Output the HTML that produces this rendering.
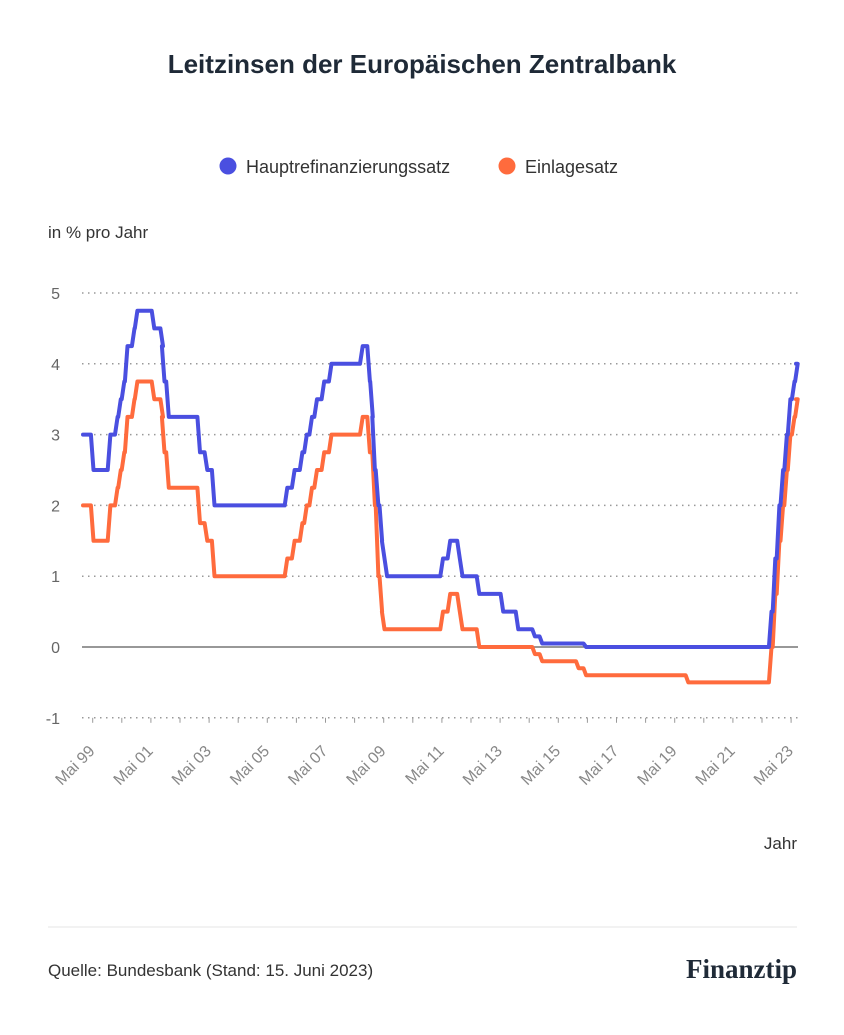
<!DOCTYPE html>
<html><head><meta charset="utf-8">
<style>
html,body{margin:0;padding:0;background:#fff;}
body{width:844px;height:1030px;overflow:hidden;font-family:"Liberation Sans",sans-serif;}
</style></head>
<body>
<svg id="s" width="844" height="1030" viewBox="0 0 844 1030" xmlns="http://www.w3.org/2000/svg" font-family="Liberation Sans, sans-serif">
<rect width="844" height="1030" fill="#fff"/>
<text x="422" y="73" text-anchor="middle" font-size="26" font-weight="bold" fill="#1f2a37">Leitzinsen der Europäischen Zentralbank</text>
<circle cx="228" cy="166" r="8.5" fill="#4a4fe0"/>
<text x="246" y="173" font-size="18" fill="#333">Hauptrefinanzierungssatz</text>
<circle cx="507" cy="166" r="8.5" fill="#ff6b3d"/>
<text x="525" y="173" font-size="18" fill="#333">Einlagesatz</text>
<text x="48" y="238" font-size="17" fill="#333">in % pro Jahr</text>
<g id="grid"></g>
<g id="lines"></g>
<text x="797" y="849" text-anchor="end" font-size="17" fill="#333">Jahr</text>
<line x1="48" y1="927" x2="797" y2="927" stroke="#e6e6e6" stroke-width="1"/>
<text x="48" y="976" font-size="17" fill="#333">Quelle: Bundesbank (Stand: 15. Juni 2023)</text>
<text x="797" y="978" text-anchor="end" font-family="Liberation Serif, serif" font-size="27" font-weight="bold" fill="#1f2a37">Finanztip</text>
</svg>
<script>
var NS="http://www.w3.org/2000/svg";
function el(t,a,p){var e=document.createElementNS(NS,t);for(var k in a)e.setAttribute(k,a[k]);p.appendChild(e);return e;}
function Y(v){return 647-v*70.8;}
function X(t){return 83+(t-1999.0)*29.1;}
var g=document.getElementById('grid');
for(var v=-1;v<=5;v++){
  var y=Y(v);
  var lab=el('text',{x:60,y:y+6,'text-anchor':'end','font-size':16,fill:'#666'},g);lab.textContent=(v<0?'-1':v);
  if(v==0){el('line',{x1:82,y1:y,x2:798,y2:y,stroke:'#777','stroke-width':1.5},g);}
  else el('line',{x1:82,y1:y,x2:798,y2:y,stroke:'#999','stroke-width':1.5,'stroke-dasharray':'1.5 4.5'},g);
}
for(var i=0;i<=24;i++){var x=X(1999+4/12+i);el('line',{x1:x,y1:Y(-1),x2:x,y2:Y(-1)+5,stroke:'#999','stroke-width':1},g);}
for(var i=0;i<=12;i++){var x=X(1999+4/12+2*i)+3;
 var yr=(1999+2*i)%100;var s=(yr<10?'0':'')+yr;
 var t=el('text',{x:x,y:752,'text-anchor':'end','font-size':16,fill:'#888',transform:'rotate(-45 '+x+' 752)'},g);t.textContent='Mai '+s;}
var d=[[1999.0,3,2],[1999.27,2.5,1.5],[1999.85,3,2],[2000.1,3.25,2.25],[2000.21,3.5,2.5],[2000.33,3.75,2.75],[2000.44,4.25,3.25],[2000.68,4.5,3.5],[2000.78,4.75,3.75],[2001.36,4.5,3.5],[2001.66,4.25,3.25],[2001.71,3.75,2.75],[2001.86,3.25,2.25],[2002.93,2.75,1.75],[2003.18,2.5,1.5],[2003.43,2,1],[2005.93,2.25,1.25],[2006.18,2.5,1.5],[2006.45,2.75,1.75],[2006.6,3,2],[2006.78,3.25,2.25],[2006.95,3.5,2.5],[2007.2,3.75,2.75],[2007.45,4,3],[2008.52,4.25,3.25],[2008.77,3.75,2.75],[2008.87,3.25,2.75],[2008.94,2.5,2],[2009.06,2,1],[2009.19,1.5,0.5],[2009.27,1.25,0.25],[2009.36,1,0.25],[2011.28,1.25,0.5],[2011.53,1.5,0.75],[2011.86,1.25,0.5],[2011.95,1,0.25],[2012.53,0.75,0],[2013.35,0.5,0],[2013.87,0.25,0],[2014.44,0.15,-0.1],[2014.69,0.05,-0.2],[2015.94,0.05,-0.3],[2016.2,0,-0.4],[2019.71,0,-0.5],[2022.57,0.5,0],[2022.7,1.25,0.75],[2022.84,2,1.5],[2022.97,2.5,2],[2023.1,3,2.5],[2023.22,3.5,3],[2023.36,3.75,3.25],[2023.47,4,3.5]];
var L=document.getElementById('lines');
function path(idx,col){var p='';var r=0.09;
 for(var i=0;i<d.length;i++){var t=d[i][0],v=d[i][idx];
  if(i==0){p+='M'+X(t).toFixed(1)+','+Y(v).toFixed(1);}
  else{p+=' L'+X(t).toFixed(1)+','+Y(d[i-1][idx]).toFixed(1)+' L'+X(t+r).toFixed(1)+','+Y(v).toFixed(1);}
 }
 p+=' L'+X(2023.5).toFixed(1)+','+Y(d[d.length-1][idx]).toFixed(1);
 el('path',{d:p,fill:'none',stroke:col,'stroke-width':4,'stroke-linejoin':'round','stroke-linecap':'round'},L);}
path(2,'#ff6b3d');path(1,'#4a4fe0');
</script>
</body></html>
